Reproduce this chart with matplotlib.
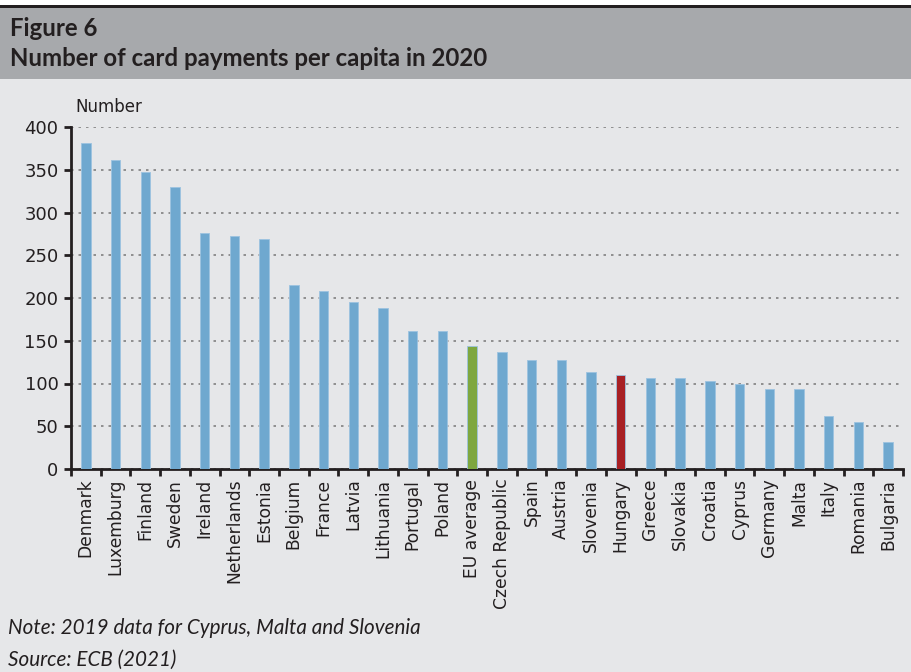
import matplotlib
matplotlib.use("Agg")
import matplotlib.pyplot as plt
import numpy as np
from matplotlib.patches import Rectangle

countries = ["Denmark", "Luxemburg", "Finland", "Sweden", "Ireland", "Netherlands",
             "Estonia", "Belgium", "France", "Latvia", "Lithuania", "Portugal",
             "Poland", "EU average", "Czech Republic", "Spain", "Austria", "Slovenia",
             "Hungary", "Greece", "Slovakia", "Croatia", "Cyprus", "Germany",
             "Malta", "Italy", "Romania", "Bulgaria"]
payments = [381, 361, 347, 330, 276, 273, 269, 215, 208, 195, 188, 161,
            161, 144, 137, 127, 127, 113, 110, 106, 106, 103, 100, 93,
            93, 62, 55, 32]

blue = "#6fa8cf"
colors = [blue] * len(countries)
colors[countries.index("EU average")] = "#7ea73f"
colors[countries.index("Hungary")] = "#a82024"

fig = plt.figure(figsize=(9.12, 6.72), dpi=100)
fig.patch.set_facecolor("#e6e7e9")

# header band
fig.patches.append(Rectangle((0, 1 - 8/672), 1, 8/672, transform=fig.transFigure,
                             facecolor="white", edgecolor="none", zorder=0))
fig.patches.append(Rectangle((0, 1 - 8/672), 1, 3/672, transform=fig.transFigure,
                             facecolor="#231f20", edgecolor="none", zorder=1))
fig.patches.append(Rectangle((0, 1 - 79/672), 1, 71/672, transform=fig.transFigure,
                             facecolor="#a7a9ac", edgecolor="none", zorder=0))

title_font = ["Lato", "DejaVu Sans"]
fig.text(10/912, 1 - 29/672, "Figure 6", fontsize=17.3, fontweight="bold",
         family=title_font, color="#231f20", va="center", ha="left")
fig.text(10/912, 1 - 58/672, "Number of card payments per capita in 2020", fontsize=17.3,
         fontweight="bold", family=title_font, color="#231f20", va="center", ha="left")

ax = fig.add_axes([71/912, 1 - 469/672, 832/912, 342/672])
ax.set_facecolor("#e6e7e9")

x = np.arange(len(countries))
ax.bar(x, payments, width=0.32, color=colors, edgecolor="#9cc3e0", linewidth=0.6, zorder=3)

ax.set_xlim(-0.5, len(countries) - 0.5)
ax.set_ylim(0, 400)
ax.set_yticks(np.arange(0, 401, 50))
ax.set_xticks(x)
ax.set_xticklabels(countries, rotation=90, fontsize=12.3, color="#231f20")
ax.set_xticks(np.arange(-0.5, len(countries), 1), minor=True)
ax.tick_params(axis="x", which="major", length=0, pad=7)
ax.tick_params(axis="x", which="minor", length=5, width=2, color="#231f20", direction="out")
ax.tick_params(axis="y", length=5, width=2, color="#231f20", labelsize=13,
               labelcolor="#231f20", pad=4)

ax.grid(axis="y", color="#808080", linestyle=(0, (1.5, 3)), linewidth=1.2, zorder=0)
ax.set_axisbelow(True)

for s in ["top", "right"]:
    ax.spines[s].set_visible(False)
for s in ["left", "bottom"]:
    ax.spines[s].set_color("#231f20")
    ax.spines[s].set_linewidth(2)

fig.text(75/912, 1 - 107/672, "Number", fontsize=12, color="#231f20", va="center", ha="left")

note_font = ["Lato", "DejaVu Sans"]
fig.text(8/912, 1 - 628/672, "Note: 2019 data for Cyprus, Malta and Slovenia", fontsize=14.9,
         style="italic", family=note_font, color="#231f20", va="center", ha="left")
fig.text(8/912, 1 - 660/672, "Source: ECB (2021)", fontsize=14.9,
         style="italic", family=note_font, color="#231f20", va="center", ha="left")

fig.savefig("out.png", dpi=100, facecolor=fig.get_facecolor())
